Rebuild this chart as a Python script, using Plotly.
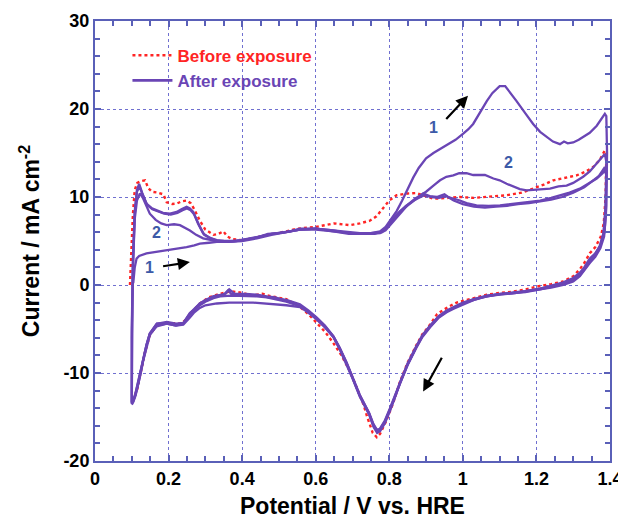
import plotly.graph_objects as go

# ---------------- data (potential V, current mA cm^-2) ----------------
before_anodic = [
    [0.095, 0.0], [0.096, 1.0], [0.100, 5.0], [0.103, 8.0], [0.108, 10.8], [0.115, 11.6],
    [0.125, 11.8], [0.136, 11.9], [0.145, 11.0], [0.155, 10.6], [0.170, 10.5], [0.186, 10.3],
    [0.195, 9.4], [0.210, 9.2], [0.222, 9.25], [0.235, 9.5], [0.249, 9.6], [0.260, 9.3],
    [0.270, 8.6], [0.285, 7.3], [0.300, 6.3], [0.322, 5.7], [0.335, 5.8], [0.349, 6.1],
    [0.360, 5.5], [0.375, 5.2], [0.400, 5.1], [0.430, 5.3], [0.460, 5.6], [0.500, 5.9],
    [0.550, 6.4], [0.600, 6.6], [0.650, 7.0], [0.693, 6.8], [0.720, 7.0], [0.747, 7.3],
    [0.765, 7.8], [0.780, 8.6], [0.800, 9.6], [0.820, 10.2], [0.850, 10.4], [0.874, 10.45],
    [0.900, 10.1], [0.920, 9.8], [0.960, 9.9], [0.992, 10.0], [1.030, 9.9], [1.056, 10.0],
    [1.090, 10.1], [1.119, 10.2], [1.160, 10.5], [1.191, 10.95], [1.220, 11.4], [1.246, 11.9],
    [1.280, 12.2], [1.309, 12.45], [1.335, 12.9], [1.354, 13.4], [1.372, 14.2], [1.386, 15.3],
]
before_cathodic = [
    [1.390, 15.0], [1.388, 10.0], [1.383, 7.0], [1.375, 5.5], [1.360, 4.3], [1.345, 3.6],
    [1.330, 2.5], [1.318, 1.8], [1.300, 1.0], [1.273, 0.4], [1.240, 0.1], [1.210, -0.1],
    [1.170, -0.5], [1.137, -0.75], [1.100, -0.9], [1.065, -1.1], [1.030, -1.5], [0.983, -2.0],
    [0.960, -2.5], [0.930, -3.3], [0.911, -4.5], [0.890, -5.6], [0.874, -6.8], [0.850, -8.8],
    [0.829, -11.0], [0.810, -13.5], [0.790, -15.6], [0.775, -16.9], [0.766, -17.3], [0.755, -16.8],
    [0.740, -15.0], [0.730, -13.6], [0.710, -11.5], [0.693, -9.8], [0.670, -8.0], [0.648, -6.6],
    [0.625, -5.3], [0.603, -4.3], [0.580, -3.3], [0.557, -2.5], [0.520, -1.6], [0.480, -1.3],
    [0.455, -1.0], [0.430, -1.2], [0.400, -0.9], [0.370, -0.7], [0.340, -1.0], [0.310, -1.4],
    [0.285, -2.1], [0.265, -3.0], [0.250, -3.8], [0.235, -4.4], [0.200, -4.3], [0.170, -4.5],
    [0.150, -5.6], [0.135, -7.8], [0.125, -10.0], [0.115, -11.8], [0.108, -12.6], [0.102, -13.0],
]

after1_anodic = [
    [0.104, 0.2], [0.108, 2.0], [0.113, 3.0], [0.120, 3.3], [0.140, 3.6], [0.170, 3.8],
    [0.200, 4.0], [0.225, 4.1], [0.249, 4.3], [0.270, 4.5], [0.285, 4.7], [0.310, 4.8],
    [0.331, 4.9], [0.360, 4.9], [0.400, 5.0], [0.440, 5.3], [0.480, 5.7], [0.520, 6.0],
    [0.557, 6.3], [0.600, 6.4], [0.648, 6.2], [0.690, 6.0], [0.720, 5.9], [0.750, 5.9],
    [0.775, 6.1], [0.790, 6.6], [0.805, 7.5], [0.820, 8.4], [0.835, 9.6], [0.850, 11.0],
    [0.865, 12.2], [0.880, 13.3], [0.900, 14.4], [0.920, 15.0], [0.940, 15.5], [0.956, 15.9],
    [0.980, 16.5], [1.001, 17.2], [1.015, 17.7], [1.028, 18.3], [1.045, 19.5], [1.065, 20.9],
    [1.080, 21.8], [1.100, 22.6], [1.115, 22.6], [1.130, 21.8], [1.146, 20.9], [1.170, 19.5],
    [1.191, 18.3], [1.210, 17.4], [1.228, 16.8], [1.245, 16.3], [1.264, 16.0], [1.275, 16.3],
    [1.285, 16.1], [1.300, 16.2], [1.315, 16.5], [1.327, 16.8], [1.345, 17.3], [1.364, 18.1],
    [1.378, 19.0], [1.386, 19.45], [1.390, 19.2],
]
after1_cathodic = [
    [1.392, 15.0], [1.390, 9.0], [1.385, 6.0], [1.375, 4.6], [1.360, 3.6], [1.345, 3.0],
    [1.330, 2.0], [1.318, 1.4], [1.300, 0.8], [1.273, 0.3], [1.240, -0.1], [1.210, -0.4],
    [1.170, -0.7], [1.137, -0.9], [1.100, -1.0], [1.065, -1.3], [1.030, -1.6], [1.000, -2.1],
    [0.975, -2.6], [0.956, -3.0], [0.935, -3.6], [0.911, -4.7], [0.890, -5.8], [0.874, -7.0],
    [0.850, -9.0], [0.829, -11.1], [0.815, -12.7], [0.802, -14.1], [0.788, -15.5], [0.775, -16.4],
    [0.767, -16.6], [0.757, -15.9], [0.745, -14.6], [0.720, -12.6], [0.700, -10.5], [0.684, -8.9],
    [0.665, -7.2], [0.648, -5.9], [0.625, -4.8], [0.603, -3.9], [0.580, -3.1], [0.557, -2.5],
    [0.520, -2.3], [0.467, -2.1], [0.430, -2.0], [0.400, -2.0], [0.365, -2.0], [0.331, -2.1],
    [0.300, -2.3], [0.285, -2.6], [0.270, -3.1], [0.258, -3.7], [0.240, -4.5], [0.220, -4.6],
    [0.195, -4.4], [0.168, -4.7], [0.149, -5.6], [0.140, -6.9], [0.131, -8.5], [0.125, -9.8],
    [0.118, -11.1], [0.110, -12.4], [0.104, -13.2], [0.100, -13.3],
]

after2_anodic = [
    [0.100, -13.3], [0.100, -8.0], [0.102, -2.0], [0.104, 3.0], [0.108, 7.5], [0.114, 9.6],
    [0.122, 10.4], [0.130, 9.9], [0.140, 9.0], [0.149, 8.1], [0.165, 7.4], [0.180, 7.0],
    [0.195, 6.8], [0.215, 6.9], [0.231, 6.8], [0.245, 6.5], [0.258, 6.2], [0.275, 5.7],
    [0.294, 5.3], [0.330, 5.0], [0.370, 5.0], [0.400, 5.1], [0.440, 5.4], [0.480, 5.8],
    [0.520, 6.0], [0.557, 6.3], [0.600, 6.4], [0.648, 6.1], [0.690, 5.9], [0.720, 5.8],
    [0.750, 5.8], [0.775, 5.9], [0.790, 6.2], [0.810, 7.2], [0.830, 8.2], [0.850, 9.1],
    [0.870, 9.8], [0.900, 10.6], [0.920, 11.3], [0.938, 11.9], [0.955, 12.3], [0.974, 12.45],
    [0.990, 12.7], [1.010, 12.7], [1.028, 12.5], [1.047, 12.45], [1.060, 12.5], [1.083, 12.1],
    [1.100, 11.9], [1.119, 11.5], [1.140, 11.1], [1.155, 10.9], [1.173, 10.75], [1.200, 10.8],
    [1.237, 10.95], [1.260, 11.2], [1.282, 11.3], [1.300, 11.6], [1.327, 12.3], [1.345, 12.9],
    [1.364, 13.8], [1.380, 14.5], [1.386, 14.9],
]
after2_cathodic = [
    [1.390, 14.0], [1.388, 9.0], [1.383, 6.0], [1.372, 4.4], [1.358, 3.4], [1.345, 2.8],
    [1.330, 1.8], [1.318, 1.2], [1.300, 0.6], [1.273, 0.2], [1.240, -0.2], [1.210, -0.4],
    [1.170, -0.7], [1.137, -0.85], [1.100, -1.0], [1.065, -1.2], [1.030, -1.6], [1.000, -2.0],
    [0.975, -2.5], [0.956, -2.9], [0.935, -3.5], [0.911, -4.6], [0.890, -5.7], [0.874, -6.9],
    [0.850, -8.9], [0.829, -11.0], [0.815, -12.6], [0.802, -14.0], [0.788, -15.4], [0.775, -16.3],
    [0.767, -16.5], [0.757, -15.8], [0.745, -14.5], [0.720, -12.5], [0.700, -10.4], [0.684, -8.8],
    [0.665, -7.1], [0.648, -5.8], [0.625, -4.6], [0.603, -3.7], [0.580, -2.9], [0.557, -2.2],
    [0.520, -1.7], [0.490, -1.5], [0.467, -1.3], [0.440, -1.2], [0.400, -1.1], [0.370, -1.0],
    [0.362, -0.6], [0.350, -1.1], [0.322, -1.3], [0.300, -1.7], [0.285, -2.1], [0.270, -2.8],
    [0.258, -3.2], [0.240, -4.3], [0.220, -4.4], [0.195, -4.2], [0.168, -4.4], [0.149, -5.5],
    [0.140, -6.8], [0.131, -8.4], [0.125, -9.7], [0.118, -11.0], [0.110, -12.3], [0.104, -13.1],
    [0.100, -13.4],
]

after3_anodic = [
    [0.100, -13.4], [0.100, -6.0], [0.103, 2.0], [0.108, 8.0], [0.114, 10.8], [0.120, 11.5],
    [0.128, 10.5], [0.140, 9.25], [0.155, 8.7], [0.168, 8.5], [0.185, 8.2], [0.204, 8.1],
    [0.222, 8.3], [0.235, 8.6], [0.249, 8.9], [0.258, 8.7], [0.267, 8.3], [0.280, 7.0],
    [0.294, 5.85], [0.310, 5.4], [0.331, 5.1], [0.350, 5.0], [0.376, 4.95], [0.400, 5.1],
    [0.440, 5.4], [0.470, 5.8], [0.500, 5.9], [0.530, 6.1], [0.557, 6.4], [0.600, 6.4],
    [0.648, 6.2], [0.690, 5.9], [0.720, 5.85], [0.750, 5.9], [0.780, 6.0], [0.800, 6.8],
    [0.810, 7.4], [0.830, 8.4], [0.856, 9.25], [0.875, 9.9], [0.892, 10.4], [0.910, 10.1],
    [0.929, 10.0], [0.950, 10.3], [0.960, 10.0], [0.992, 9.6], [1.010, 9.3], [1.037, 9.05],
    [1.070, 9.0], [1.101, 9.05], [1.130, 9.2], [1.155, 9.4], [1.180, 9.5], [1.210, 9.6],
    [1.240, 9.9], [1.264, 10.2], [1.290, 10.5], [1.318, 10.95], [1.345, 11.6], [1.364, 12.1],
    [1.380, 12.7], [1.386, 13.0],
]
after3_cathodic = [
    [1.390, 12.5], [1.388, 8.5], [1.382, 5.8], [1.372, 4.3], [1.358, 3.3], [1.345, 2.6],
    [1.330, 1.7], [1.318, 1.1], [1.300, 0.5], [1.273, 0.1], [1.240, -0.2], [1.210, -0.5],
    [1.170, -0.8], [1.137, -0.9], [1.100, -1.05], [1.065, -1.25], [1.030, -1.7], [1.000, -2.1],
    [0.975, -2.6], [0.956, -3.0], [0.935, -3.6], [0.911, -4.7], [0.890, -5.8], [0.874, -7.0],
    [0.850, -9.0], [0.829, -11.1], [0.815, -12.8], [0.802, -14.2], [0.788, -15.6], [0.775, -16.5],
    [0.767, -16.7], [0.757, -16.0], [0.745, -14.6], [0.720, -12.6], [0.700, -10.5], [0.684, -8.9],
    [0.665, -7.2], [0.648, -5.85], [0.625, -4.7], [0.603, -3.8], [0.580, -3.0], [0.557, -2.3],
    [0.520, -1.8], [0.490, -1.4], [0.467, -1.3], [0.440, -1.1], [0.410, -1.0], [0.380, -1.0],
    [0.365, -0.5], [0.355, -1.0], [0.322, -1.3], [0.300, -1.8], [0.285, -2.1], [0.270, -2.7],
    [0.258, -3.2], [0.240, -4.4], [0.220, -4.5], [0.195, -4.3], [0.168, -4.4], [0.149, -5.5],
    [0.140, -6.8], [0.131, -8.5], [0.125, -9.8], [0.118, -11.2], [0.110, -12.5], [0.104, -13.2],
    [0.100, -13.5],
]

after4_anodic = [
    [0.100, -13.5], [0.100, -5.0], [0.103, 3.0], [0.108, 8.4], [0.114, 10.6], [0.121, 11.2],
    [0.130, 10.2], [0.142, 9.1], [0.156, 8.6], [0.170, 8.4], [0.188, 8.1], [0.206, 8.0],
    [0.224, 8.2], [0.238, 8.5], [0.250, 8.7], [0.260, 8.5], [0.270, 8.0], [0.283, 6.8],
    [0.297, 5.7], [0.315, 5.3], [0.335, 5.0], [0.360, 4.9], [0.385, 5.0], [0.410, 5.2],
    [0.445, 5.5], [0.480, 5.8], [0.515, 6.0], [0.557, 6.3], [0.600, 6.3], [0.648, 6.1],
    [0.690, 5.8], [0.720, 5.8], [0.760, 5.8], [0.785, 6.2], [0.800, 7.0], [0.820, 8.0],
    [0.845, 9.0], [0.870, 9.7], [0.895, 10.2], [0.915, 10.0], [0.935, 9.9], [0.955, 10.1],
    [0.975, 9.6], [1.000, 9.2], [1.030, 8.9], [1.060, 8.8], [1.090, 8.9], [1.120, 9.0],
    [1.150, 9.2], [1.180, 9.3], [1.210, 9.5], [1.240, 9.7], [1.270, 10.0], [1.300, 10.5],
    [1.330, 11.1], [1.350, 11.7], [1.370, 12.4], [1.386, 13.4],
]
after4_cathodic = [
    [1.390, 13.0], [1.389, 8.0], [1.384, 5.5], [1.374, 4.2], [1.360, 3.2], [1.345, 2.5],
    [1.330, 1.6], [1.318, 1.0], [1.300, 0.4], [1.273, 0.0], [1.240, -0.3], [1.210, -0.5],
    [1.170, -0.8], [1.137, -0.95], [1.100, -1.1], [1.065, -1.3], [1.030, -1.7], [1.000, -2.2],
    [0.975, -2.7], [0.956, -3.1], [0.935, -3.7], [0.911, -4.8], [0.890, -5.9], [0.874, -7.1],
    [0.850, -9.1], [0.829, -11.2], [0.815, -12.9], [0.802, -14.3], [0.788, -15.7], [0.775, -16.6],
    [0.767, -16.8], [0.757, -16.1], [0.745, -14.7], [0.720, -12.7], [0.700, -10.6], [0.684, -9.0],
    [0.665, -7.3], [0.648, -5.9], [0.625, -4.8], [0.603, -3.9], [0.580, -3.1], [0.557, -2.4],
    [0.520, -1.9], [0.490, -1.6], [0.467, -1.4], [0.440, -1.3], [0.400, -1.2], [0.370, -1.2],
    [0.340, -1.3], [0.322, -1.5], [0.300, -1.9], [0.285, -2.3], [0.270, -2.9], [0.258, -3.4],
    [0.240, -4.4], [0.220, -4.6], [0.195, -4.4], [0.168, -4.6], [0.149, -5.7], [0.140, -7.0],
    [0.131, -8.6], [0.125, -9.9], [0.118, -11.3], [0.110, -12.6], [0.104, -13.3], [0.100, -13.6],
]

x_ticks = [0, 0.2, 0.4, 0.6, 0.8, 1.0, 1.2, 1.4]
x_tick_labels = ["0", "0.2", "0.4", "0.6", "0.8", "1", "1.2", "1.4"]
y_ticks = [-20, -10, 0, 10, 20, 30]
y_tick_labels = ["-20", "-10", "0", "10", "20", "30"]

# cycle labels: (text, V, I)
cycle_labels = [("1", 0.919, 17.9), ("2", 1.123, 13.9), ("2", 0.167, 6.0), ("1", 0.147, 2.0)]
# sweep-direction arrows: (tail V, tail I, head V, head I)
sweep_arrows = [(0.951, 18.7, 1.014, 21.5), (0.181, 2.1, 0.258, 2.6), (0.945, -8.1, 0.892, -12.1)]

PURPLE = "#6a45b5"
RED = "#ff2424"
AXIS = "#5a60b8"
FONT = "Liberation Sans"

def xs(seg):
    return [p[0] for p in seg]

def ys(seg):
    return [p[1] for p in seg]

fig = go.Figure()

fig.add_trace(go.Scatter(
    x=xs(before_anodic + before_cathodic), y=ys(before_anodic + before_cathodic),
    mode="lines", line=dict(color=RED, width=2.4, dash="dot"),
    name="<span style='color:%s'>Before exposure</span>" % RED, showlegend=True))

after_cycles = [
    after3_anodic + after3_cathodic,
    after4_anodic + after4_cathodic,
    after2_anodic + after2_cathodic,
    after1_anodic + after1_cathodic,
]
for cyc in after_cycles:
    fig.add_trace(go.Scatter(x=xs(cyc), y=ys(cyc), mode="lines",
                             line=dict(color=PURPLE, width=2.3), showlegend=False))

# legend entry for "After exposure"
fig.add_trace(go.Scatter(x=[None], y=[None], mode="lines",
                         line=dict(color=PURPLE, width=2.6),
                         name="<span style='color:%s'>After exposure</span>" % PURPLE,
                         showlegend=True))

for txt, vx, vy in cycle_labels:
    fig.add_annotation(x=vx, y=vy, text=txt, showarrow=False,
                       font=dict(family=FONT, size=16, color="#3c5aa8", weight="bold"))
for tx, ty, hx, hy in sweep_arrows:
    fig.add_annotation(x=hx, y=hy, ax=tx, ay=ty, xref="x", yref="y", axref="x", ayref="y",
                       text="", showarrow=True, arrowhead=2, arrowsize=1.1,
                       arrowwidth=2.2, arrowcolor="black")

axis_common = dict(
    showline=True, linecolor=AXIS, linewidth=2, mirror="allticks",
    ticks="inside", ticklen=6, tickwidth=1.5, tickcolor=AXIS,
    showgrid=True, gridcolor="#7070d0", griddash="dot", gridwidth=1,
    zeroline=False, automargin=False,
    tickfont=dict(family=FONT, size=18, color="black", weight="bold"),
)

fig.update_xaxes(range=[0, 1.4], tickvals=x_ticks, ticktext=x_tick_labels,
                 minor=dict(dtick=0.05, ticks="inside", ticklen=5, tickcolor=AXIS, showgrid=False),
                 title=dict(text="Potential / V vs. HRE", standoff=10,
                            font=dict(family=FONT, size=23, color="black", weight="bold")),
                 **axis_common)
fig.update_yaxes(range=[-20, 30], tickvals=y_ticks, ticktext=y_tick_labels,
                 minor=dict(dtick=2, ticks="inside", ticklen=5, tickcolor=AXIS, showgrid=False),
                 title=dict(text="Current / mA cm<sup>-2</sup>", standoff=17,
                            font=dict(family=FONT, size=23, color="black", weight="bold")),
                 **axis_common)

# page body has an 8 px default margin, so the figure is a little smaller than the window
fig.update_layout(
    width=618, height=515,
    margin=dict(l=87, r=16, t=13, b=62),
    paper_bgcolor="white", plot_bgcolor="white",
    legend=dict(x=0.063, y=0.962, xanchor="left", yanchor="top",
                bgcolor="rgba(0,0,0,0)", itemwidth=40,
                font=dict(family=FONT, size=17, weight="bold"),
                tracegroupgap=0),
)

fig.write_html("out.html")
